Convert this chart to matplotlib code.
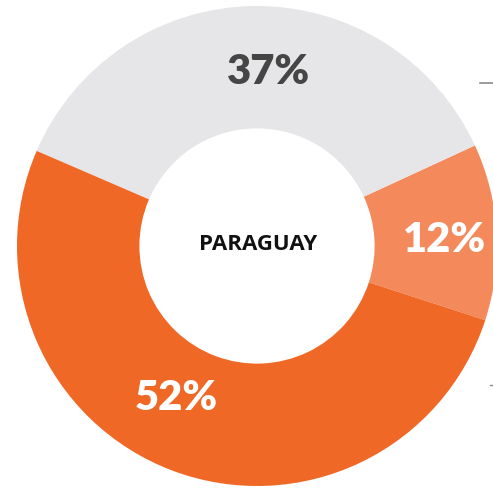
import matplotlib
matplotlib.use('Agg')
import matplotlib.pyplot as plt

# shares for Paraguay
labels = ["12%", "37%", "52%"]
values = [12, 37, 52]
colors = ["#F48A5B", "#E6E6E8", "#F06826"]
label_colors = ["white", "#454545", "white"]
center_text = "PARAGUAY"

W, H = 493, 488
fig = plt.figure(figsize=(W / 100, H / 100), dpi=100)
ax = fig.add_axes([0, 0, 1, 1])

cx, cy, R = 257, 242, 240
ax.pie(values, colors=colors, startangle=-18, counterclock=True,
       center=(cx, cy), radius=R, frame=True,
       wedgeprops=dict(width=R * 0.51, linewidth=0))
ax.set_xlim(0, W)
ax.set_ylim(0, H)
ax.set_aspect('equal')
ax.axis('off')

# label spots (pixels from the image top-left)
label_pos = [(444, 240), (269, 72), (176, 398)]
for lab, (x, y), c in zip(labels, label_pos, label_colors):
    ax.text(x, H - y, lab, color=c, fontsize=30, fontweight='heavy',
            family='Lato', ha='center', va='center')

ax.text(258, H - 244, center_text, color='#111111', fontsize=16,
        fontweight='bold', family='Open Sans', ha='center', va='center')

# little leader marks at right edge
ax.plot([480, 493], [H - 83, H - 83], color='#8a8a8a', lw=1.2)
ax.plot([490, 493], [H - 385, H - 385], color='#8a8a8a', lw=1.0)

fig.savefig('out.png', dpi=100)
